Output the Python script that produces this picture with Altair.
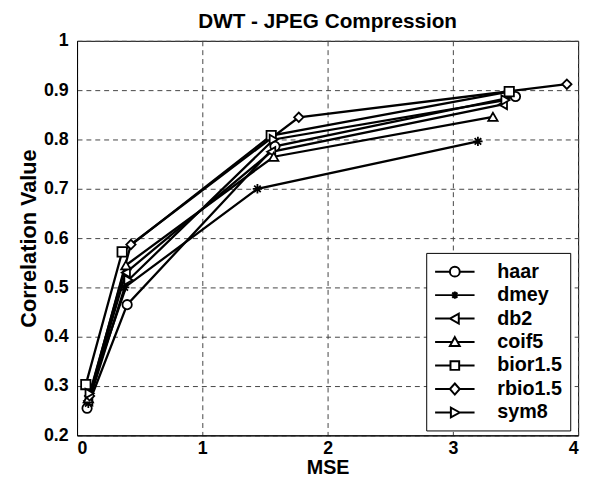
import altair as alt
import pandas as pd

# ---- data ----
series_names = ["haar", "dmey", "db2", "coif5", "bior1.5", "rbio1.5", "sym8"]

haar_x = [0.08, 0.40, 1.58, 3.50]
haar_y = [0.255, 0.465, 0.786, 0.887]
dmey_x = [0.09, 0.38, 1.44, 3.20]
dmey_y = [0.265, 0.500, 0.700, 0.796]
db2_x = [0.09, 0.39, 1.55, 3.40]
db2_y = [0.270, 0.530, 0.775, 0.871]
coif5_x = [0.09, 0.39, 1.57, 3.32]
coif5_y = [0.275, 0.545, 0.765, 0.846]
bior_x = [0.07, 0.36, 1.55, 3.45]
bior_y = [0.303, 0.572, 0.808, 0.897]
rbio_x = [0.10, 0.43, 1.77, 3.91]
rbio_y = [0.280, 0.587, 0.845, 0.912]
sym8_x = [0.10, 0.41, 1.57, 3.42]
sym8_y = [0.285, 0.515, 0.800, 0.880]

x_ticks = [0, 1, 2, 3, 4]
y_ticks = [0.2, 0.3, 0.4, 0.5, 0.6, 0.7, 0.8, 0.9, 1.0]

all_x = [haar_x, dmey_x, db2_x, coif5_x, bior_x, rbio_x, sym8_x]
all_y = [haar_y, dmey_y, db2_y, coif5_y, bior_y, rbio_y, sym8_y]

rows = []
for name, xs, ys in zip(series_names, all_x, all_y):
    for i, (xv, yv) in enumerate(zip(xs, ys)):
        rows.append({"series": name, "idx": i, "mse": xv, "corr": yv})
df = pd.DataFrame(rows)

# marker shapes in the plot
plot_shapes = [
    "circle",
    "M-1,0H1M0,-1V1M-0.7,-0.7L0.7,0.7M-0.7,0.7L0.7,-0.7",
    "triangle-left",
    "triangle-up",
    "square",
    "diamond",
    "triangle-right",
]
# legend symbols: line + marker (gaps where the marker sits)
legend_shapes = [
    "M-2,0H-0.5M0.5,0H2M0.5,0A0.5,0.5 0 1,1 -0.5,0A0.5,0.5 0 1,1 0.5,0",
    "M-2,0H2M0,-0.36V0.36M-0.26,-0.26L0.26,0.26M-0.26,0.26L0.26,-0.26",
    "M-2,0H-0.5M0.4,0H2M-0.5,0L0.4,-0.5L0.4,0.5Z",
    "M-2,0H-0.28M0.28,0H2M0,-0.5L0.5,0.4L-0.5,0.4Z",
    "M-2,0H-0.44M0.44,0H2M-0.44,-0.44H0.44V0.44H-0.44Z",
    "M-2,0H-0.5M0.5,0H2M0,-0.56L0.5,0L0,0.56L-0.5,0Z",
    "M-2,0H-0.4M0.5,0H2M0.5,0L-0.4,-0.5L-0.4,0.5Z",
]

FONT = "Liberation Sans"

x_enc = alt.X("mse:Q", title="MSE",
              scale=alt.Scale(domain=[0, 4], nice=False, zero=False),
              axis=alt.Axis(values=x_ticks, format="~g"))
y_enc = alt.Y("corr:Q", title="Correlation Value",
              scale=alt.Scale(domain=[0.2, 1.0], nice=False, zero=False),
              axis=alt.Axis(values=y_ticks, format="~g"))

base = alt.Chart(df)

lines = base.mark_line(color="black", strokeWidth=2.3).encode(
    x=x_enc, y=y_enc, detail="series:N", order="idx:Q"
)

points = base.mark_point(filled=True, fill="white", stroke="black",
                         strokeWidth=1.8, size=90, opacity=1).encode(
    x=x_enc, y=y_enc,
    shape=alt.Shape("series:N",
                    scale=alt.Scale(domain=series_names, range=plot_shapes),
                    legend=None),
)

legend_layer = base.transform_filter("datum.mse > 100").mark_point(
    filled=False, color="black", strokeWidth=2, opacity=1
).encode(
    x=x_enc, y=y_enc,
    shape=alt.Shape(
        "series:N",
        scale=alt.Scale(domain=series_names, range=legend_shapes),
        legend=alt.Legend(
            title=None, orient="none", legendX=354, legendY=215,
            symbolSize=400, symbolStrokeWidth=2, symbolStrokeColor="black",
            symbolOpacity=1, symbolOffset=10,
            labelFont=FONT, labelFontSize=20, labelFontWeight="bold",
            labelColor="black", labelOffset=32, rowPadding=2.8,
            padding=8, strokeColor="black", fillColor="white",
        ),
    ),
)

chart = alt.layer(lines, points, legend_layer).resolve_scale(
    shape="independent"
).properties(
    width=508, height=400,
    title=alt.TitleParams("DWT - JPEG Compression", font=FONT, fontSize=21,
                          fontWeight="bold", color="black", offset=0,
                          anchor="middle", frame="group"),
    autosize=alt.AutoSizeParams(type="none"),
    padding={"left": 70, "top": 30, "right": 9, "bottom": 45},
).configure_view(
    stroke="black", strokeWidth=1
).configure_axis(
    domain=True, domainColor="black", domainWidth=1,
    grid=True, gridColor="#444444", gridDash=[5, 4], gridWidth=1,
    ticks=False, labelFont=FONT, labelFontSize=18, labelFontWeight="bold",
    labelColor="black",
    titleFont=FONT, titleFontWeight="bold", titleColor="black",
).configure_axisY(
    labelPadding=9, titlePadding=3, titleFontSize=22
).configure_axisX(
    labelPadding=4, titlePadding=1, titleFontSize=20
)

chart.save("out.html", embed_options={"renderer": "svg", "actions": False})
